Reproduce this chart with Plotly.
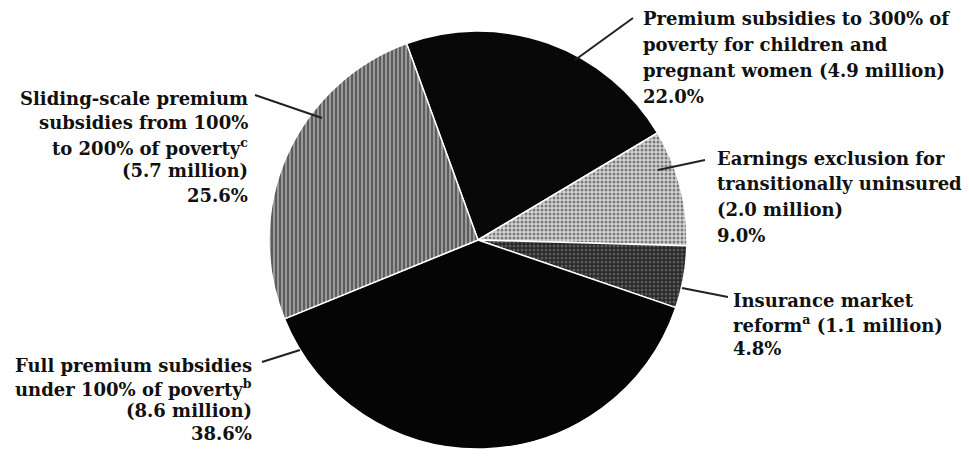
import plotly.graph_objects as go

# ---- data ----
labels = [
    "Premium subsidies to 300% of poverty for children and pregnant women (4.9 million)",
    "Earnings exclusion for transitionally uninsured (2.0 million)",
    "Insurance market reform (1.1 million)",
    "Full premium subsidies under 100% of poverty (8.6 million)",
    "Sliding-scale premium subsidies from 100% to 200% of poverty (5.7 million)",
]
shares = [22.0, 9.0, 4.8, 38.6, 25.6]
label_lines = [
    ["Premium subsidies to 300% of", "poverty for children and", "pregnant women (4.9 million)", "22.0%"],
    ["Earnings exclusion for", "transitionally uninsured", "(2.0 million)", "9.0%"],
    ["Insurance market", "reform<sup>a</sup> (1.1 million)", "4.8%"],
    ["Full premium subsidies", "under 100% of poverty<sup>b</sup>", "(8.6 million)", "38.6%"],
    ["Sliding-scale premium", "subsidies from 100%", "to 200% of poverty<sup>c</sup>", "(5.7 million)", "25.6%"],
]

W, H = 969, 456
def px(x):
    return x / W
def py(y):
    return 1 - y / H

bg = ["#080808", "#d4d4d4", "#262626", "#050505", "#5c5c5c"]
fg = ["#080808", "#7a7a7a", "#5a5a5a", "#050505", "#a0a0a0"]
shape = ["", ".", ".", "", "|"]

fig = go.Figure()
fig.add_trace(go.Pie(
    labels=labels,
    values=shares,
    sort=False,
    direction="clockwise",
    rotation=-20,
    textinfo="none",
    hoverinfo="label+percent",
    showlegend=False,
    marker=dict(
        colors=bg,
        line=dict(color="white", width=1.5),
        pattern=dict(shape=shape, bgcolor=bg, fgcolor=fg, size=4, solidity=0.45),
    ),
    domain=dict(x=[px(269), px(687)], y=[py(449), py(31)]),
))

font = dict(family="DejaVu Serif", size=18, color="#111111", weight="bold")

# label placement: (x edge, first line centre y, line spacing, anchor)
placements = [
    (641, 18, 26.3, "left"),
    (715, 158, 25.7, "left"),
    (731, 300, 24.0, "left"),
    (254, 365, 22.7, "right"),
    (250, 98, 24.3, "right"),
]
for lines, (x, y0, dy, anc) in zip(label_lines, placements):
    for i, line in enumerate(lines):
        fig.add_annotation(
            x=px(x), y=py(y0 + i * dy), xref="paper", yref="paper",
            xanchor=anc, yanchor="middle", align=anc,
            text=line, showarrow=False, font=font,
        )

# leader lines (pixel endpoints)
leaders = [
    ((575, 60), (633, 18)),
    ((658, 170), (705, 160)),
    ((682, 288), (728, 297)),
    ((300, 350), (262, 362)),
    ((322, 118), (255, 95)),
]
for (x0, y0), (x1, y1) in leaders:
    fig.add_shape(type="line", xref="paper", yref="paper",
                  x0=px(x0), y0=py(y0), x1=px(x1), y1=py(y1),
                  line=dict(color="#222222", width=2))

fig.update_layout(
    width=W, height=H,
    margin=dict(l=0, r=0, t=0, b=0),
    paper_bgcolor="white",
    plot_bgcolor="white",
)
fig.write_html("out.html")
